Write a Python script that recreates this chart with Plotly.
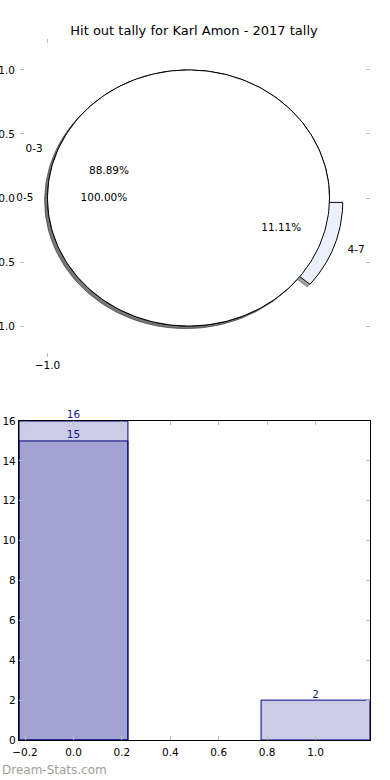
import numpy as np
import plotly.graph_objects as go

# ---------------- data ----------------
title_text = "Hit out tally for Karl Amon - 2017 tally"
pie_inner_labels = ["0-3", "4-7"]
pie_inner_values = [16, 2]
pie_outer_labels = ["0-5"]
pie_outer_values = [15]

bar_x = [0, 1]
bar_all_values = [16, 2]
bar_sub_x = [0]
bar_sub_values = [15]
bar_xticks = [-0.2, 0.0, 0.2, 0.4, 0.6, 0.8, 1.0]
bar_yticks = [0, 2, 4, 6, 8, 10, 12, 14, 16]
pie_yticks = [-1.0, -0.5, 0.0, 0.5, 1.0]
pie_xticks = [-1.0]

# ---------------- style ----------------
inner_explode = [0.0, 0.1]
outer_explode = [0.0]
inner_colors = [(255, 255, 255), (235, 240, 252)]
outer_colors = [(255, 255, 255)]
FONT = "DejaVu Sans"
FS = 10.5
W, H = 390, 780


def wedge_path(cx, cy, r, t1, t2, n=240):
    th = np.radians(np.linspace(t1, t2, n))
    xs = cx + r * np.cos(th)
    ys = cy + r * np.sin(th)
    if t2 - t1 >= 360 - 1e-9:
        return list(xs), list(ys)
    return [cx] + list(xs) + [cx], [cy] + list(ys) + [cy]


def pie_geometry(values, explode):
    total = float(sum(values))
    out = []
    start = 0.0
    for v, e in zip(values, explode):
        frac = v / total
        t1, t2 = start, start + 360.0 * frac
        mid = np.radians((t1 + t2) / 2)
        cx, cy = e * np.cos(mid), e * np.sin(mid)
        out.append(dict(t1=t1, t2=t2, mid=mid, cx=cx, cy=cy, frac=frac))
        start = t2
    return out


inner = pie_geometry(pie_inner_values, inner_explode)
outer = pie_geometry(pie_outer_values, outer_explode)

fig = go.Figure()

# shadows first
for geo, cols in ((inner, inner_colors), (outer, outer_colors)):
    for g, c in zip(geo, cols):
        xs, ys = wedge_path(g["cx"] - 0.02, g["cy"] - 0.02, 1.0, g["t1"], g["t2"])
        sc = "rgba(%d,%d,%d,0.5)" % tuple(int(0.3 * k) for k in c)
        fig.add_trace(go.Scatter(x=xs, y=ys, mode="lines", fill="toself",
                                 fillcolor=sc, line=dict(color=sc, width=1),
                                 hoverinfo="skip", showlegend=False,
                                 xaxis="x", yaxis="y"))

# wedges
for geo, cols in ((inner, inner_colors), (outer, outer_colors)):
    for g, c in zip(geo, cols):
        xs, ys = wedge_path(g["cx"], g["cy"], 1.0, g["t1"], g["t2"])
        fig.add_trace(go.Scatter(x=xs, y=ys, mode="lines", fill="toself",
                                 fillcolor="rgb(%d,%d,%d)" % c,
                                 line=dict(color="black", width=1),
                                 hoverinfo="skip", showlegend=False,
                                 xaxis="x", yaxis="y"))

# labels and percentages
for geo, labels in ((inner, pie_inner_labels), (outer, pie_outer_labels)):
    for g, lab in zip(geo, labels):
        lx = g["cx"] + 1.1 * np.cos(g["mid"])
        ly = g["cy"] + 1.1 * np.sin(g["mid"])
        pos = "middle right" if lx > 0 else "middle left"
        fig.add_trace(go.Scatter(x=[lx], y=[ly], mode="text", text=[lab],
                                 textposition=pos,
                                 textfont=dict(family=FONT, size=FS, color="black"),
                                 hoverinfo="skip", showlegend=False, cliponaxis=False,
                                 xaxis="x", yaxis="y"))
        px_ = g["cx"] + 0.6 * np.cos(g["mid"])
        py_ = g["cy"] + 0.6 * np.sin(g["mid"])
        fig.add_trace(go.Scatter(x=[px_], y=[py_], mode="text",
                                 text=["%.2f%%" % (100 * g["frac"])],
                                 textposition="middle center",
                                 textfont=dict(family=FONT, size=FS, color="black"),
                                 hoverinfo="skip", showlegend=False, cliponaxis=False,
                                 xaxis="x", yaxis="y"))

# ---------------- bars ----------------
bar_fill = "rgba(0,0,128,0.2)"
fig.add_trace(go.Bar(x=bar_x, y=bar_all_values, width=0.45,
                     marker=dict(color=bar_fill, line=dict(color="rgb(0,0,128)", width=1)),
                     hoverinfo="skip", showlegend=False, xaxis="x2", yaxis="y2"))
fig.add_trace(go.Bar(x=bar_sub_x, y=bar_sub_values, width=0.45,
                     marker=dict(color=bar_fill, line=dict(color="rgb(0,0,128)", width=1)),
                     hoverinfo="skip", showlegend=False, xaxis="x2", yaxis="y2"))
for xs_, ys_ in ((bar_x, bar_all_values), (bar_sub_x, bar_sub_values)):
    fig.add_trace(go.Scatter(x=xs_, y=ys_, mode="text", text=[str(v) for v in ys_],
                             textposition="top center",
                             textfont=dict(family=FONT, size=FS, color="rgb(20,20,140)"),
                             hoverinfo="skip", showlegend=False, cliponaxis=False,
                             xaxis="x2", yaxis="y2"))

# ---------------- layout ----------------
xr = [(20 - 188.5) / 141.0, (370 - 188.5) / 141.0]
tickfont = dict(family=FONT, size=FS, color="black")
common = dict(ticks="inside", ticklen=4, tickcolor="#bbbbbb", showgrid=False,
              zeroline=False, tickfont=tickfont, fixedrange=True, automargin=False,
              mirror="ticks")
fig.update_layout(
    width=W, height=H, margin=dict(l=0, r=0, t=0, b=0, autoexpand=False),
    paper_bgcolor="white", plot_bgcolor="white",
    barmode="overlay", showlegend=False,
    font=dict(family=FONT, size=FS, color="black"),
    title=dict(text=title_text, x=194 / W, xanchor="center", y=1 - 30 / H,
               yanchor="middle", font=dict(family=FONT, size=13, color="black"),
               automargin=False),
    xaxis=dict(domain=[20 / W, 370 / W], range=xr, tickvals=pie_xticks,
               tickformat=".1f", showline=False, anchor="y", **common),
    yaxis=dict(domain=[1 - 357 / H, 1 - 39 / H], range=[-1.242, 1.242],
               tickvals=pie_yticks, tickformat=".1f", showline=False, anchor="x",
               ticklabelstandoff=4, **common),
    xaxis2=dict(domain=[19 / W, 370 / W], range=[-0.225, 1.225], tickvals=bar_xticks,
                tickformat=".1f", showline=True, linecolor="black", linewidth=1.3,
                anchor="y2", ticklabelstandoff=2, **common),
    yaxis2=dict(domain=[1 - 740 / H, 1 - 421 / H], range=[0, 16], tickvals=bar_yticks,
                showline=True, linecolor="black", linewidth=1.3, anchor="x2", **common),
    annotations=[dict(text="Dream-Stats.com", x=0, y=1 - 770 / H, xref="paper",
                      yref="paper", xanchor="left", yanchor="middle", showarrow=False,
                      font=dict(family=FONT, size=12, color="#a0a0a0"))],
)

fig.write_html("out.html")
